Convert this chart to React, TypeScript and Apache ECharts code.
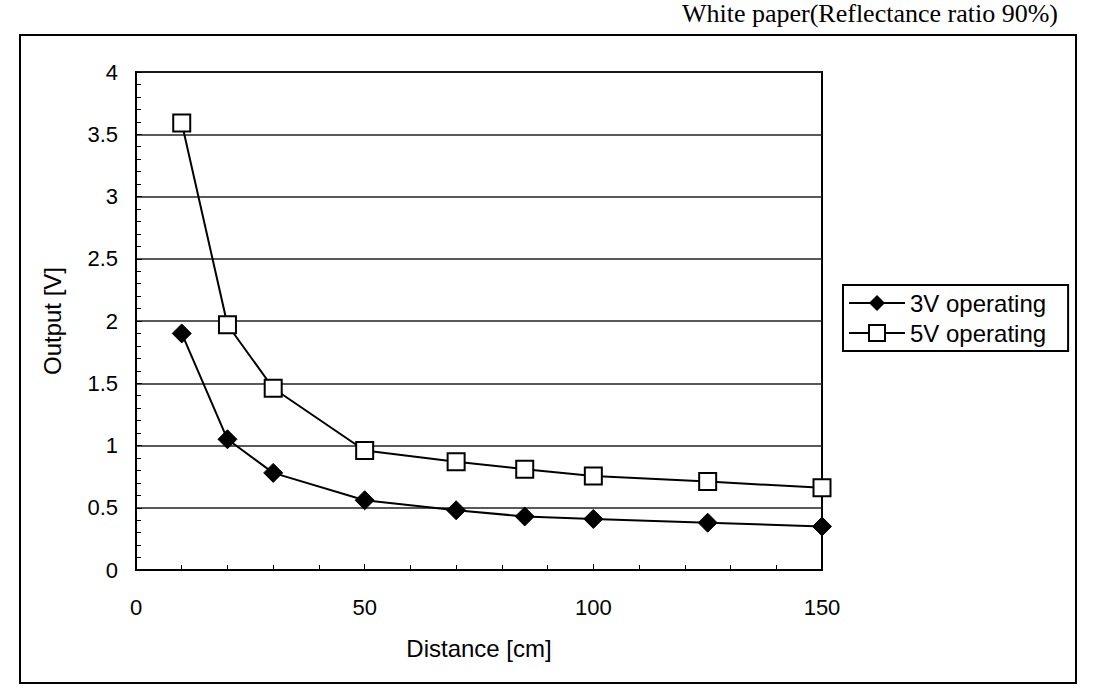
import React, { useEffect, useRef } from "react";
import * as echarts from "echarts";

const distances = [10, 20, 30, 50, 70, 85, 100, 125, 150];
const v3 = [1.9, 1.05, 0.78, 0.56, 0.48, 0.43, 0.41, 0.38, 0.35];
const v5 = [3.59, 1.97, 1.46, 0.96, 0.87, 0.81, 0.755, 0.71, 0.66];
const seriesNames = ["3V operating", "5V operating"];
const title = "White paper(Reflectance ratio 90%)";

export default function App() {
  const ref = useRef<HTMLDivElement>(null);
  useEffect(() => {
    if (!ref.current) return;
    const chart = echarts.init(ref.current, undefined, { renderer: "svg" });
    const tickFont = { fontFamily: "Liberation Sans, sans-serif", fontSize: 22, color: "#000" };
    chart.setOption({
      animation: false,
      backgroundColor: "#fff",
      graphic: [
        {
          type: "rect",
          shape: { x: 20, y: 35, width: 1056, height: 648 },
          style: { fill: "none", stroke: "#000", lineWidth: 2 },
          z: -1,
        },
        {
          type: "text",
          right: 47,
          top: 0,
          style: { text: title, font: "26px 'Liberation Serif', serif", fill: "#000" },
        },
      ],
      grid: {
        left: 136,
        top: 72,
        width: 686,
        height: 498,
        show: true,
        borderColor: "#000",
        borderWidth: 2,
      },
      legend: {
        orient: "vertical",
        left: 843,
        top: 285,
        padding: [6, 22, 6, 5],
        itemGap: 6,
        itemWidth: 56,
        itemHeight: 20,
        borderColor: "#000",
        borderWidth: 2,
        textStyle: { fontFamily: "Liberation Sans, sans-serif", fontSize: 24, color: "#000" },
        data: seriesNames,
      },
      xAxis: {
        type: "value",
        min: 0,
        max: 150,
        interval: 50,
        name: "Distance [cm]",
        nameLocation: "middle",
        nameGap: 66,
        nameTextStyle: { ...tickFont, fontSize: 24 },
        axisLine: { lineStyle: { color: "#000", width: 2 } },
        axisTick: { inside: true, length: 6, lineStyle: { color: "#000" } },
        minorTick: { show: true, splitNumber: 5, length: 5, lineStyle: { color: "#000" } },
        axisLabel: { ...tickFont, margin: 26 },
        splitLine: { show: false },
      },
      yAxis: {
        type: "value",
        min: 0,
        max: 4,
        interval: 0.5,
        name: "Output [V]",
        nameLocation: "middle",
        nameGap: 72,
        nameTextStyle: { ...tickFont, fontSize: 24 },
        axisLine: { show: true, lineStyle: { color: "#000", width: 2 } },
        axisTick: { show: true, inside: true, length: 6, lineStyle: { color: "#000" } },
        minorTick: { show: true, splitNumber: 5, length: 5, lineStyle: { color: "#000" } },
        axisLabel: { ...tickFont, margin: 18 },
        splitLine: { show: true, lineStyle: { color: "#222", width: 1.5 } },
      },
      series: [
        {
          name: seriesNames[0],
          type: "line",
          data: distances.map((d, i) => [d, v3[i]]),
          symbol: "diamond",
          symbolSize: 19,
          lineStyle: { color: "#000", width: 2 },
          itemStyle: { color: "#000", borderColor: "#000" },
          z: 3,
        },
        {
          name: seriesNames[1],
          type: "line",
          data: distances.map((d, i) => [d, v5[i]]),
          symbol: "rect",
          symbolSize: 17,
          lineStyle: { color: "#000", width: 2 },
          itemStyle: { color: "#fff", borderColor: "#000", borderWidth: 2 },
          z: 4,
        },
      ],
    });
    return () => chart.dispose();
  }, []);
  return <div ref={ref} style={{ position: "fixed", left: 0, top: 0, width: 1105, height: 700 }} />;
}
